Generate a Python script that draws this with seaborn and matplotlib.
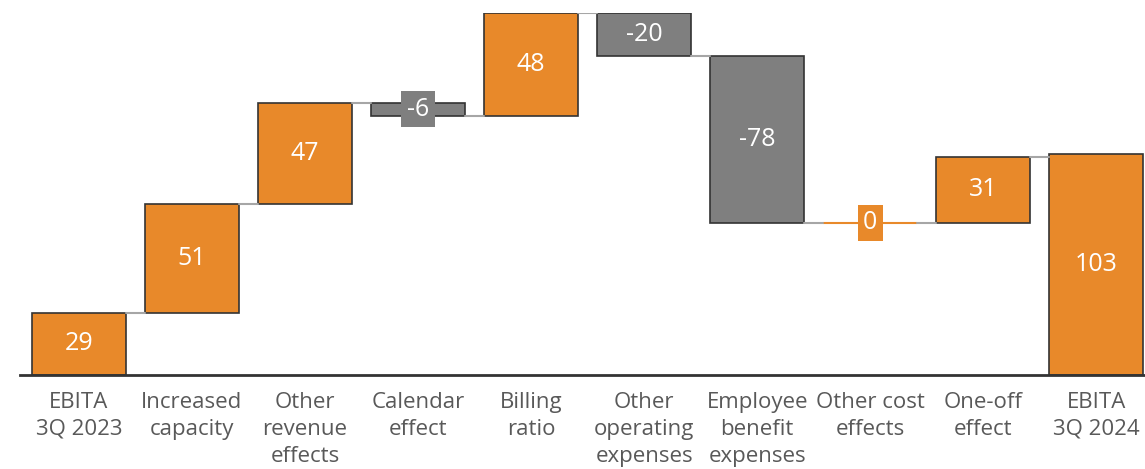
import numpy as np
import matplotlib
matplotlib.use("Agg")
import matplotlib.pyplot as plt
import seaborn as sns

categories = ["EBITA\n3Q 2023", "Increased\ncapacity", "Other\nrevenue\neffects",
              "Calendar\neffect", "Billing\nratio", "Other\noperating\nexpenses",
              "Employee\nbenefit\nexpenses", "Other cost\neffects", "One-off\neffect",
              "EBITA\n3Q 2024"]
changes = [29, 51, 47, -6, 48, -20, -78, 0, 31, 103]
is_total = [True, False, False, False, False, False, False, False, False, True]

orange = "#E8892A"
grey = "#7F7F7F"

# floating bar geometry from the running total
bottoms, heights, levels = [], [], []
run = 0
for v, tot in zip(changes, is_total):
    if tot:
        bottoms.append(0)
        heights.append(v)
        run = v
    else:
        lo = min(run, run + v)
        bottoms.append(lo)
        heights.append(abs(v))
        run = run + v
    levels.append(run)

sns.set_style("white")
plt.rcParams["font.family"] = ["Open Sans", "DejaVu Sans"]

fig = plt.figure(figsize=(11.45, 4.69), dpi=100)
ax = fig.add_axes([20 / 1145, (469 - 375) / 469, 1 - 20 / 1145, (375 - 13) / 469])

bw = 0.83
sns.barplot(x=categories, y=heights, bottom=bottoms, color=orange,
            edgecolor="#333333", linewidth=1.2, width=bw, saturation=1, ax=ax)

for p, v, tot in zip(ax.patches, changes, is_total):
    c = orange if (tot or v >= 0) else grey
    p.set_facecolor(c)
    if v == 0 and not tot:
        p.set_edgecolor(orange)
        p.set_linewidth(1.5)

# connectors
for i in range(len(changes) - 1):
    ax.plot([i + bw / 2, i + 1 - bw / 2], [levels[i], levels[i]],
            color="#A6A6A6", lw=1.5, zorder=1)

# value labels
for i, (v, b, h, tot) in enumerate(zip(changes, bottoms, heights, is_total)):
    c = orange if (tot or v >= 0) else grey
    small = h < 12
    ax.text(i, b + h / 2, f"{v}", ha="center", va="center", color="white",
            fontsize=18, zorder=5,
            bbox=dict(boxstyle="square,pad=0.22", fc=c, ec="none") if small else None)

ax.set_xlim(-0.52, 9.43)
ax.set_ylim(0, 169)
ax.set_yticks([])
for s in ["left", "right", "top"]:
    ax.spines[s].set_visible(False)
ax.spines["bottom"].set_color("#333333")
ax.spines["bottom"].set_linewidth(2)
ax.tick_params(axis="x", length=0, pad=12, labelsize=16, labelcolor="#595959")
for t in ax.get_xticklabels():
    t.set_linespacing(1.38)
ax.set_xlabel("")

fig.savefig("out.png", dpi=100)
